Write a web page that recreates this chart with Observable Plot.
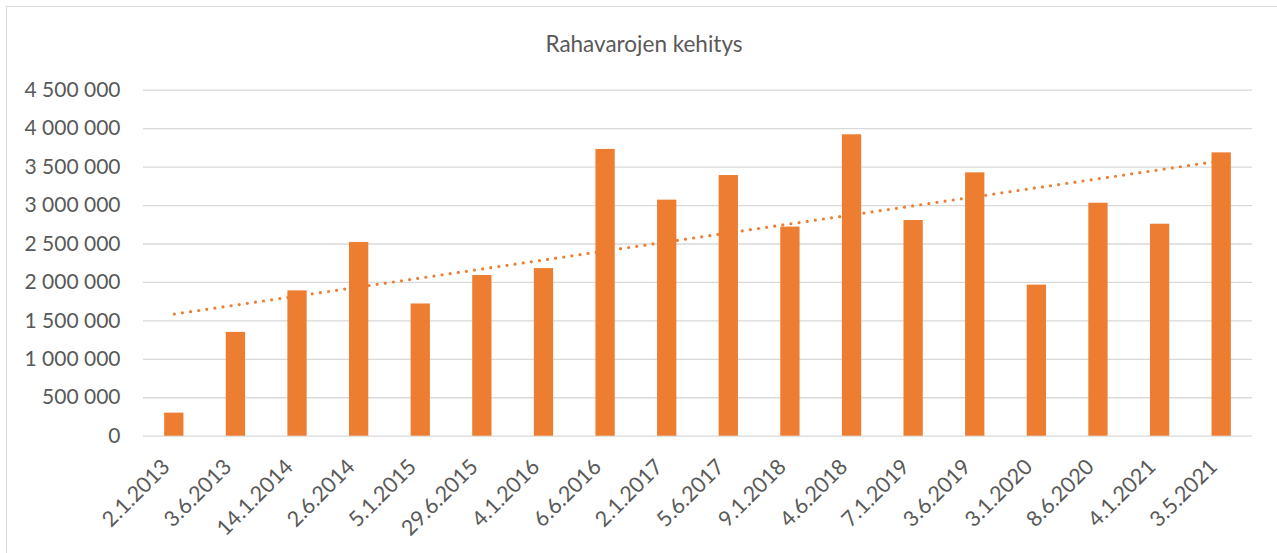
<!DOCTYPE html>
<html>
<head>
<meta charset="utf-8">
<script src="https://cdn.jsdelivr.net/npm/d3@7"></script>
<script src="https://cdn.jsdelivr.net/npm/@observablehq/plot@0.6"></script>
<style>
  html, body { margin: 0; padding: 0; background: #fff; }
  #wrap { position: relative; width: 1277px; height: 553px; overflow: hidden; font-family: Lato, "Open Sans", sans-serif; }
  #border { position: absolute; left: 6px; top: 6px; width: 1300px; height: 600px; border-left: 1.5px solid #d9d9d9; border-top: 1.5px solid #d9d9d9; box-sizing: border-box; }
  #title { position: absolute; left: 0; top: 30px; width: 1288px; text-align: center; font-size: 22.5px; color: #595959; }
  #chart { position: absolute; left: 0; top: 0; }
</style>
</head>
<body>
<div id="wrap">
  <div id="border"></div>
  <div id="title">Rahavarojen kehitys</div>
  <div id="chart"></div>
</div>
<script>
const dates = ["2.1.2013","3.6.2013","14.1.2014","2.6.2014","5.1.2015","29.6.2015","4.1.2016","6.6.2016","2.1.2017","5.6.2017","9.1.2018","4.6.2018","7.1.2019","3.6.2019","3.1.2020","8.6.2020","4.1.2021","3.5.2021"];
const values = [300000,1350000,1890000,2520000,1720000,2090000,2180000,3730000,3070000,3390000,2720000,3920000,2805000,3425000,1965000,3030000,2757000,3685000];
const yTicks = [0,500000,1000000,1500000,2000000,2500000,3000000,3500000,4000000,4500000];

const data = dates.map((d, i) => ({date: d, value: values[i], i}));

// linear trend (least squares over category index)
const mx = d3.mean(data, d => d.i), my = d3.mean(values);
const slope = d3.sum(data, d => (d.i - mx) * (d.value - my)) / d3.sum(data, d => (d.i - mx) ** 2);
const trend = data.map(d => ({date: d.date, value: my + slope * (d.i - mx)}));

const fmt = d3.formatLocale({thousands: "\u00a0", grouping: [3], decimal: ",", currency: ["", ""]}).format(",");

const chart = Plot.plot({
  width: 1277,
  height: 553,
  marginLeft: 143,
  marginRight: 25,
  marginTop: 89.7,
  marginBottom: 117.3,
  style: {fontFamily: "Lato, 'Open Sans', sans-serif", fontSize: "21px", color: "#595959", background: "transparent", overflow: "visible"},
  x: {domain: dates, paddingInner: 0.687, paddingOuter: 0.3435, align: 0.5, round: false, label: null},
  y: {domain: [0, 4500000], label: null},
  marks: [
    Plot.gridY(yTicks, {stroke: "#d9d9d9", strokeOpacity: 1, strokeWidth: 1.3}),
    Plot.axisY(yTicks, {tickSize: 0, tickPadding: 23, tickFormat: fmt, fontSize: 21, fill: "#595959"}),
    Plot.barY(data, {x: "date", y: "value", fill: "#ed7d31"}),
    Plot.line(trend, {x: "date", y: "value", stroke: "#ed7d31", strokeWidth: 3.2, strokeDasharray: "0 8.2", strokeLinecap: "round"}),
    Plot.axisX({tickSize: 0, tickRotate: -45, tickPadding: 27, dx: -8, fontSize: 21.5, fill: "#595959"})
  ]
});
document.getElementById("chart").appendChild(chart);
</script>
</body>
</html>
